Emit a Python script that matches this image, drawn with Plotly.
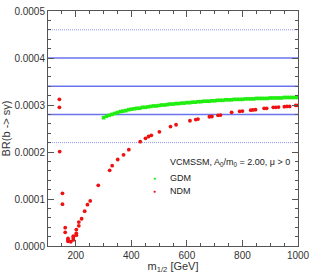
import plotly.graph_objects as go

# GDM (green) series
gdm_m = [300, 310, 320, 330, 340, 350, 360, 370, 380, 390, 400, 410, 420, 430, 440, 450,
         460, 470, 480, 490, 500, 510, 520, 530, 540, 550, 560, 570, 580, 590, 600, 610,
         620, 630, 640, 650, 660, 670, 680, 690, 700, 710, 720, 730, 740, 750, 760, 770,
         780, 790, 800, 810, 820, 830, 840, 850, 860, 870, 880, 890, 900, 910, 920, 930,
         940, 950, 960, 970, 980, 990, 1000]
gdm_br = [2.73, 2.76, 2.78, 2.80, 2.82, 2.84, 2.86, 2.87, 2.88, 2.90, 2.91, 2.92, 2.93, 2.93,
          2.95, 2.95, 2.96, 2.97, 2.98, 2.98, 2.99, 3.00, 3.00, 3.01, 3.02, 3.02, 3.03, 3.03,
          3.04, 3.04, 3.05, 3.05, 3.06, 3.06, 3.07, 3.07, 3.08, 3.08, 3.08, 3.09, 3.09, 3.10,
          3.10, 3.10, 3.11, 3.11, 3.11, 3.12, 3.12, 3.12, 3.12, 3.13, 3.13, 3.13, 3.13, 3.14,
          3.14, 3.14, 3.14, 3.14, 3.15, 3.15, 3.15, 3.15, 3.15, 3.16, 3.16, 3.16, 3.16, 3.16,
          3.16]

# NDM (red) series
ndm_m = [141, 141, 142, 152, 152, 162, 162, 172, 172, 172, 182, 191, 191, 191, 202, 202, 202,
         211, 211, 221, 232, 242, 252, 281, 322, 331, 351, 372, 391, 432, 451, 462, 472, 501,
         541, 561, 611, 632, 640, 681, 690, 712, 721, 761, 790, 800, 830, 838, 847, 878, 887,
         911, 920, 930, 951, 960, 970, 992, 1000]
ndm_br = [3.12, 2.95, 2.01, 1.12, 0.89, 0.39, 0.29, 0.16, 0.13, 0.10, 0.09, 0.21, 0.17, 0.13,
          0.35, 0.27, 0.23, 0.51, 0.43, 0.58, 0.74, 0.88, 0.96, 1.29, 1.61, 1.71, 1.84, 1.94,
          2.05, 2.22, 2.29, 2.33, 2.355, 2.43, 2.54, 2.58, 2.665, 2.69, 2.70, 2.75, 2.755,
          2.78, 2.785, 2.845, 2.865, 2.87, 2.89, 2.895, 2.90, 2.93, 2.93, 2.95, 2.95, 2.955,
          2.965, 2.97, 2.97, 2.99, 2.99]

# reference lines (x1e-4)
solid_levels = [2.8, 3.4, 4.0]
dotted_levels = [2.2, 4.6]

series_names = ["GDM", "NDM"]
series_colors = ["#22ee11", "#ee1111"]
legend_title = "VCMSSM, A<sub>0</sub>/m<sub>0</sub> = 2.00, μ > 0"

scale = 1e-4
fig = go.Figure()

for lv in solid_levels:
    fig.add_hline(y=lv * scale, line=dict(color="#6b74ee", width=1.5), layer="below")
for lv in dotted_levels:
    fig.add_hline(y=lv * scale, line=dict(color="#9096f2", width=1, dash="1px,1px"), layer="below")

fig.add_trace(go.Scatter(x=gdm_m, y=[v * scale for v in gdm_br], mode="markers",
                         name=series_names[0],
                         marker=dict(color=series_colors[0], size=3.6, symbol="square")))
fig.add_trace(go.Scatter(x=ndm_m, y=[v * scale for v in ndm_br], mode="markers",
                         name=series_names[1],
                         marker=dict(color=series_colors[1], size=3.8, symbol="circle")))

axis_common = dict(showline=True, linecolor="#555", linewidth=1, mirror="ticks",
                   ticks="inside", ticklen=6, tickcolor="#555", showgrid=False,
                   zeroline=False, tickfont=dict(size=10, color="#333"))

fig.update_xaxes(range=[100, 1000], tickvals=[200, 400, 600, 800, 1000],
                 ticklabeloverflow="allow",
                 minor=dict(dtick=50, tick0=0, ticks="inside", ticklen=3, tickcolor="#555"),
                 title=dict(text="m<sub>1/2</sub> [GeV]", font=dict(size=11, color="#333"), standoff=0),
                 **axis_common)
fig.update_yaxes(range=[0, 0.0005], tickvals=[0, 0.0001, 0.0002, 0.0003, 0.0004, 0.0005],
                 ticktext=["0.0000", "0.0001", "0.0002", "0.0003", "0.0004", "0.0005"],
                 ticklabeloverflow="allow",
                 minor=dict(dtick=0.00002, tick0=0, ticks="inside", ticklen=3, tickcolor="#555"),
                 title=dict(text="BR(b -> sγ)", font=dict(size=11, color="#333"), standoff=2),
                 **axis_common)

# legend drawn as text annotations
legend_font = dict(size=9, color="#222")
fig.add_annotation(xref="paper", yref="paper", x=0.481, y=0.355, xanchor="left", yanchor="middle",
                   text=legend_title, showarrow=False, font=legend_font)
for i, (nm, col) in enumerate(zip(series_names, series_colors)):
    yy = 0.289 - i * 0.054
    fig.add_annotation(xref="paper", yref="paper", x=0.427, y=yy, xanchor="center", yanchor="middle",
                       text="●", showarrow=False, font=dict(size=5, color=col))
    fig.add_annotation(xref="paper", yref="paper", x=0.481, y=yy, xanchor="left", yanchor="middle",
                       text=nm, showarrow=False, font=legend_font)

fig.update_layout(
    width=315, height=274,
    margin=dict(l=44, r=11, t=5, b=27),
    plot_bgcolor="white", paper_bgcolor="white",
    font=dict(family="Liberation Sans, Arial, sans-serif", size=9, color="#222"),
    showlegend=False,
)

fig.write_html("out.html", config={"displayModeBar": False},
               post_script="document.body.style.margin='0';document.body.style.overflow='hidden';")
